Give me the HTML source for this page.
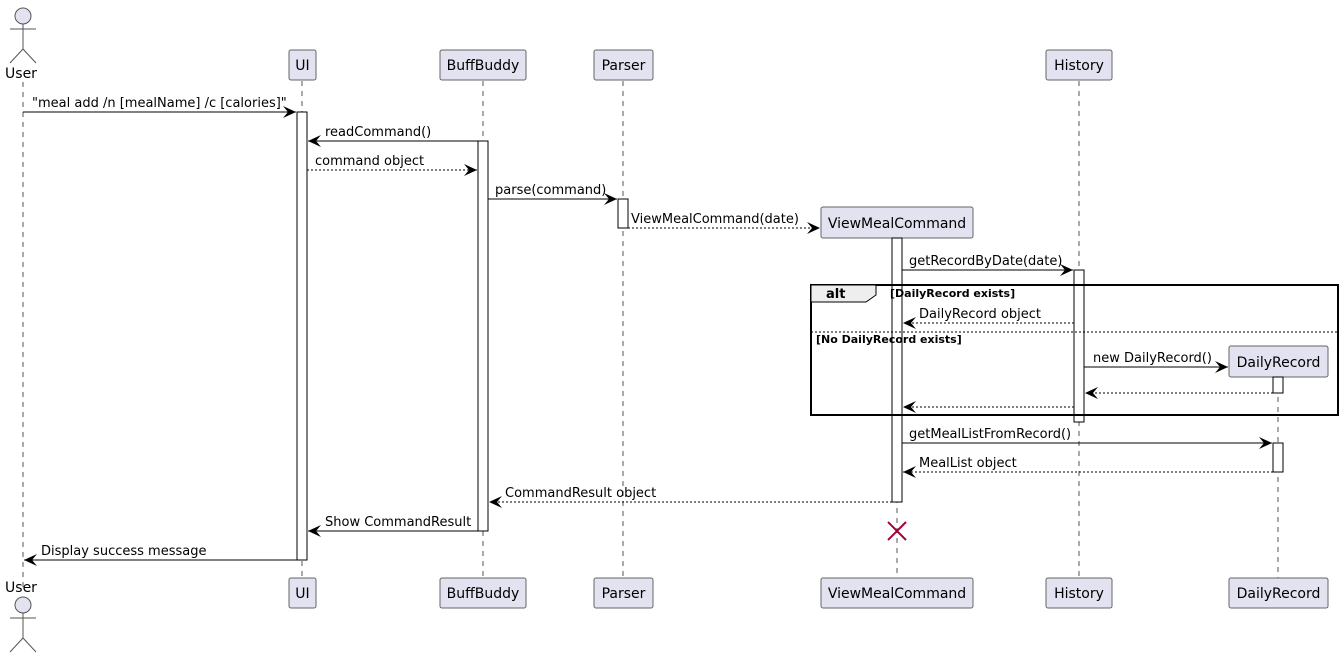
<!DOCTYPE html>
<html><head><meta charset="utf-8"><style>
html,body{margin:0;padding:0;background:#fff;}
svg{display:block;}
text{font-family:"DejaVu Sans","Liberation Sans",sans-serif;font-size:13px;fill:#000;}
.p{font-size:14px;text-anchor:middle;}
.b{font-weight:bold;font-size:11px;}
.ll{stroke:#555;stroke-width:1;stroke-dasharray:5,5;}
.box{fill:#E2E2F0;stroke:#666;stroke-width:1;}
.act{fill:#fff;stroke:#000;stroke-width:1;}
.m{stroke:#000;stroke-width:1;fill:none;}
.d{stroke:#000;stroke-width:1;fill:none;stroke-dasharray:2,2;}
</style></head><body>
<svg width="1344" height="658" viewBox="0 0 1344 658" xmlns="http://www.w3.org/2000/svg">
<line class="ll" x1="23" y1="82" x2="23" y2="590"/>
<line class="ll" x1="302" y1="81" x2="302" y2="578"/>
<line class="ll" x1="483" y1="81" x2="483" y2="578"/>
<line class="ll" x1="623" y1="81" x2="623" y2="578"/>
<line class="ll" x1="897" y1="238" x2="897" y2="578"/>
<line class="ll" x1="1079" y1="81" x2="1079" y2="578"/>
<line class="ll" x1="1278" y1="377" x2="1278" y2="578"/>

<g stroke="#555" fill="#E2E2F0">
<circle cx="23" cy="16" r="8"/>
<line x1="23" y1="24" x2="23" y2="49"/><line x1="10" y1="29" x2="36" y2="29"/>
<line x1="23" y1="49" x2="10" y2="63"/><line x1="23" y1="49" x2="36" y2="63"/>
<circle cx="23" cy="605" r="8"/>
<line x1="23" y1="613" x2="23" y2="638"/><line x1="10" y1="618" x2="36" y2="618"/>
<line x1="23" y1="638" x2="10" y2="652"/><line x1="23" y1="638" x2="36" y2="652"/>
</g>
<text class="p" x="21" y="78">User</text>
<text class="p" x="21" y="592">User</text>

<rect class="box" x="289" y="50" width="27" height="30" rx="2"/><text class="p" x="302.5" y="70">UI</text>
<rect class="box" x="440" y="50" width="86" height="30" rx="2"/><text class="p" x="483" y="70">BuffBuddy</text>
<rect class="box" x="594" y="50" width="59" height="30" rx="2"/><text class="p" x="623.5" y="70">Parser</text>
<rect class="box" x="1046" y="50" width="66" height="30" rx="2"/><text class="p" x="1079" y="70">History</text>
<rect class="box" x="821" y="207" width="152" height="31" rx="2"/><text class="p" x="897" y="228">ViewMealCommand</text>
<rect class="box" x="1229" y="346" width="99" height="31" rx="2"/><text class="p" x="1278.5" y="367">DailyRecord</text>
<rect class="box" x="289" y="578" width="27" height="30" rx="2"/><text class="p" x="302.5" y="598">UI</text>
<rect class="box" x="440" y="578" width="86" height="30" rx="2"/><text class="p" x="483" y="598">BuffBuddy</text>
<rect class="box" x="594" y="578" width="59" height="30" rx="2"/><text class="p" x="623.5" y="598">Parser</text>
<rect class="box" x="821" y="578" width="152" height="30" rx="2"/><text class="p" x="897" y="598">ViewMealCommand</text>
<rect class="box" x="1046" y="578" width="66" height="30" rx="2"/><text class="p" x="1079" y="598">History</text>
<rect class="box" x="1229" y="578" width="99" height="30" rx="2"/><text class="p" x="1278.5" y="598">DailyRecord</text>

<rect class="act" x="297" y="112" width="10" height="448"/>
<rect class="act" x="478" y="141" width="10" height="390"/>
<rect class="act" x="618" y="199" width="10" height="29"/>
<rect class="act" x="892" y="238" width="10" height="264"/>
<rect class="act" x="1074" y="270" width="10" height="152"/>
<rect class="act" x="1273" y="377" width="10" height="16"/>
<rect class="act" x="1273" y="443" width="10" height="29"/>

<rect x="811" y="285" width="527" height="130" fill="none" stroke="#000" stroke-width="2"/>
<path d="M811 285 H876 V295 L866 302 H811 Z" fill="#EEEEEE" stroke="#000" stroke-width="1"/>
<text class="b" x="826" y="298" style="font-size:13px">alt</text>
<text class="b" x="890" y="297">[DailyRecord exists]</text>
<line x1="811" y1="332" x2="1338" y2="332" stroke="#000" stroke-dasharray="2,2"/>
<text class="b" x="816" y="343">[No DailyRecord exists]</text>

<defs>
<marker id="a" viewBox="0 0 14 12" refX="13" refY="6" markerWidth="14" markerHeight="12" markerUnits="userSpaceOnUse" orient="auto">
<path d="M0 0 L13 6 L0 12 L5 6 Z" fill="#000"/></marker>
</defs>
<line class="m" x1="23" y1="112" x2="296" y2="112" marker-end="url(#a)"/>
<text x="32" y="107">"meal add /n [mealName] /c [calories]"</text>
<line class="m" x1="478" y1="141" x2="308" y2="141" marker-end="url(#a)"/>
<text x="325" y="136">readCommand()</text>
<line class="d" x1="307" y1="170" x2="477" y2="170" marker-end="url(#a)"/>
<text x="315" y="165">command object</text>
<line class="m" x1="488" y1="199" x2="617" y2="199" marker-end="url(#a)"/>
<text x="495" y="194">parse(command)</text>
<line class="d" x1="628" y1="228" x2="820" y2="228" marker-end="url(#a)"/>
<text x="631" y="223">ViewMealCommand(date)</text>
<line class="m" x1="902" y1="270" x2="1073" y2="270" marker-end="url(#a)"/>
<text x="909" y="265">getRecordByDate(date)</text>
<line class="d" x1="1074" y1="323" x2="903" y2="323" marker-end="url(#a)"/>
<text x="919" y="318">DailyRecord object</text>
<line class="m" x1="1084" y1="367" x2="1228" y2="367" marker-end="url(#a)"/>
<text x="1093" y="362">new DailyRecord()</text>
<line class="d" x1="1273" y1="393" x2="1085" y2="393" marker-end="url(#a)"/>
<line class="d" x1="1074" y1="407" x2="903" y2="407" marker-end="url(#a)"/>
<line class="m" x1="902" y1="443" x2="1272" y2="443" marker-end="url(#a)"/>
<text x="909" y="438">getMealListFromRecord()</text>
<line class="d" x1="1273" y1="472" x2="903" y2="472" marker-end="url(#a)"/>
<text x="919" y="467">MealList object</text>
<line class="d" x1="892" y1="502" x2="489" y2="502" marker-end="url(#a)"/>
<text x="505" y="497">CommandResult object</text>
<line class="m" x1="478" y1="531" x2="308" y2="531" marker-end="url(#a)"/>
<text x="325" y="526">Show CommandResult</text>
<line class="m" x1="297" y1="560" x2="24" y2="560" marker-end="url(#a)"/>
<text x="41" y="555">Display success message</text>

<g stroke="#A80036" stroke-width="2">
<line x1="888" y1="522" x2="906" y2="540"/><line x1="906" y1="522" x2="888" y2="540"/>
</g>
</svg>
</body></html>
